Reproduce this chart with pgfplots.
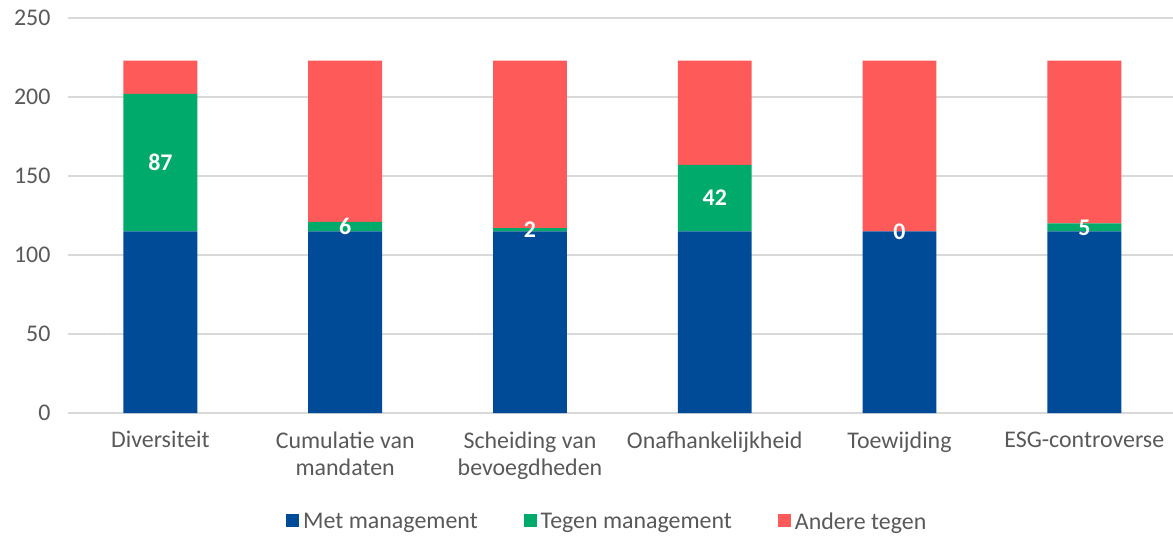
\documentclass[border=0pt]{standalone}
\usepackage{pgfplots}
\pgfplotsset{compat=1.18}
\usepackage{fontspec}
\setmainfont{Carlito}
\definecolor{cblue}{RGB}{0,75,152}
\definecolor{cgreen}{RGB}{0,170,106}
\definecolor{cred}{RGB}{255,90,90}
\definecolor{ctext}{RGB}{89,89,89}
\definecolor{cgrid}{RGB}{217,217,217}
\begin{document}
\begin{tikzpicture}
\pgfplotsset{
  common/.style={
    scale only axis, width=1105bp, height=395bp,
    xmin=-0.5, xmax=5.48, ymin=0, ymax=250,
  }
}
\begin{axis}[common,
  ybar stacked, bar width=0.4,
  axis line style={draw=none},
  major tick length=0pt,
  ymajorgrids, grid style={cgrid, line width=1.2bp},
  ytick={0,50,...,250},
  xtick={0,...,5},
  xticklabels={Diversiteit,{Cumulatie van\\mandaten},{Scheiding van\\bevoegdheden},Onafhankelijkheid,Toewijding,ESG-controverse},
  xticklabel style={align=center, font=\fontsize{24}{27.5}\selectfont, text=ctext, yshift=-15bp},
  yticklabel style={font=\fontsize{24}{27.5}\selectfont, text=ctext, xshift=-14bp},
  /pgf/number format/assume math mode=true,
  legend columns=3,
  legend style={draw=none, at={(0.488,-0.276)}, anchor=center,
    font=\fontsize{24}{27.5}\selectfont, text=ctext,
    /tikz/every odd column/.append style={column sep=2bp},
    /tikz/every even column/.append style={column sep=44bp}},
  legend image code/.code={\fill[#1] (0bp,-5bp) rectangle (13bp,8bp);},
]
\addplot[fill=cblue, draw=none] coordinates {(0,115) (1,115) (2,115) (3,115) (4,115) (5,115)};
\addplot[fill=cgreen, draw=none] coordinates {(0,87) (1,6) (2,2) (3,42) (4,0) (5,5)};
\addplot[fill=cred, draw=none] coordinates {(0,21) (1,102) (2,106) (3,66) (4,108) (5,103)};
\legend{Met management, Tegen management, Andere tegen}
\end{axis}
\begin{axis}[common, hide axis]
\addplot[draw=none, mark=none, nodes near coords, point meta=explicit symbolic,
  every node near coord/.style={font=\fontsize{24}{27.5}\selectfont\bfseries, text=white, anchor=center}]
  table[meta=l] {
x y l
0 158.5 87
1 118 6
2 116 2
3 136 42
4 115 0
5 117.5 5
};
\end{axis}
\pgfresetboundingbox
\path[use as bounding box] ([xshift=-68bp,yshift=-125bp]current axis.south west) rectangle ([yshift=18bp]current axis.north east);
\end{tikzpicture}
\end{document}
